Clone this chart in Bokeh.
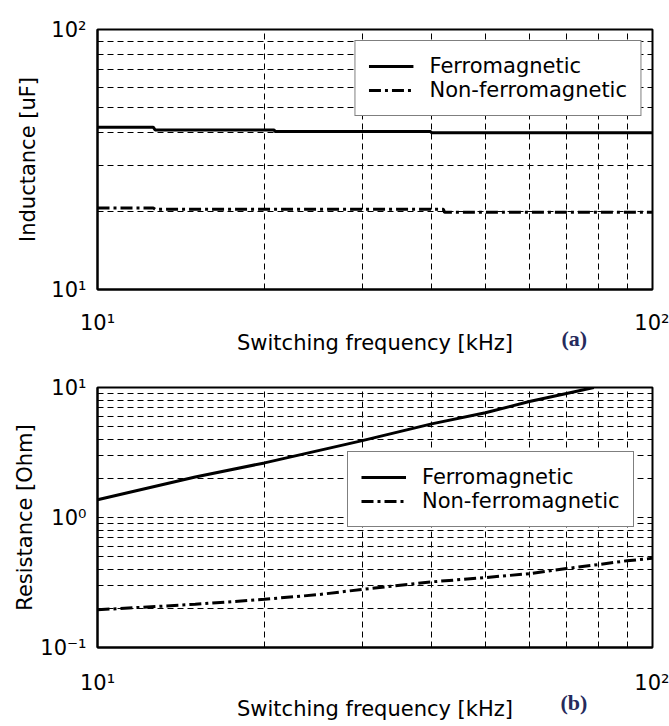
from bokeh.plotting import figure
from bokeh.layouts import column
from bokeh.models import (Range1d, FixedTicker, CustomJSTickFormatter, Legend,
                          LegendItem, Title)
from bokeh.embed import file_html
from bokeh.resources import INLINE

# ---------------- data ----------------
# (a) inductance vs switching frequency
freq_ferro_a = [10, 12.6, 12.7, 20.8, 20.9, 39.8, 40.0, 100]
ind_ferro = [42.1, 42.1, 41.1, 41.1, 40.5, 40.5, 40.1, 40.1]
freq_nonferro_a = [10, 12.6, 12.7, 42.0, 42.2, 100]
ind_nonferro = [20.6, 20.6, 20.35, 20.35, 19.8, 19.8]

# (b) resistance vs switching frequency
freq_ferro_b = [10, 15, 20, 30, 40, 50, 60, 70, 78.4]
res_ferro = [1.37, 2.05, 2.63, 3.9, 5.25, 6.4, 7.8, 9.0, 10.0]
freq_nonferro_b = [10, 15, 20, 25, 30, 40, 50, 60, 70, 80, 90, 100]
res_nonferro = [0.195, 0.215, 0.235, 0.255, 0.28, 0.32, 0.345, 0.37, 0.405,
                0.435, 0.465, 0.485]

series_names = ["Ferromagnetic", "Non-ferromagnetic"]
panel_tags = ["(a)", "(b)"]
x_label = "Switching frequency [kHz]"
x_major = [10, 100]
x_minor = [20, 30, 40, 50, 60, 70, 80, 90]
ya_major = [10, 100]
ya_minor = [20, 30, 40, 50, 60, 70, 80, 90]
yb_major = [0.1, 1, 10]
yb_minor = [0.2, 0.3, 0.4, 0.5, 0.6, 0.7, 0.8, 0.9,
            2, 3, 4, 5, 6, 7, 8, 9]

FONT = "DejaVu Sans"
FS = "21px"

sup_fmt = CustomJSTickFormatter(code="""
const sup = {"-": "\u207b", "0": "\u2070", "1": "\u00b9", "2": "\u00b2", "3": "\u00b3",
             "4": "\u2074", "5": "\u2075", "6": "\u2076", "7": "\u2077", "8": "\u2078", "9": "\u2079"};
const e = Math.round(Math.log10(tick));
return "10" + String(e).split("").map(c => sup[c]).join("");
""")


def make_panel(ylabel, yrange, ymaj, ymin, border_top, border_bottom,
               ylab_standoff, xtick_standoff):
    p = figure(width=669, height=363, x_axis_type="log", y_axis_type="log",
               x_range=Range1d(10, 100), y_range=Range1d(*yrange),
               output_backend="svg", toolbar_location=None,
               min_border_left=97, min_border_right=17,
               min_border_top=border_top, min_border_bottom=border_bottom)
    p.background_fill_color = "white"
    p.border_fill_color = "white"
    p.outline_line_color = "black"
    p.outline_line_width = 2

    p.xaxis.ticker = FixedTicker(ticks=x_major, minor_ticks=x_minor)
    p.yaxis.ticker = FixedTicker(ticks=ymaj, minor_ticks=ymin)
    for ax in (p.xaxis, p.yaxis):
        ax.formatter = sup_fmt
        ax.axis_line_color = "black"
        ax.axis_line_width = 2
        ax.major_tick_in = 6
        ax.major_tick_out = 0
        ax.minor_tick_in = 3
        ax.minor_tick_out = 0
        ax.major_tick_line_color = "black"
        ax.minor_tick_line_color = "black"
        ax.major_label_text_font = FONT
        ax.major_label_text_font_size = FS
        ax.major_label_text_color = "black"
        ax.axis_label_text_font = FONT
        ax.axis_label_text_font_size = FS
        ax.axis_label_text_font_style = "normal"
        ax.axis_label_text_color = "black"
    p.xaxis.major_label_standoff = xtick_standoff
    p.yaxis.major_label_standoff = 11
    p.yaxis.axis_label = ylabel
    p.yaxis.axis_label_standoff = ylab_standoff

    for g in (p.xgrid, p.ygrid):
        g.grid_line_color = "black"
        g.grid_line_dash = "6 4"
        g.grid_line_width = 1
        g.minor_grid_line_color = "black"
        g.minor_grid_line_dash = "6 4"
        g.minor_grid_line_width = 1
    return p


DASHDOT = "12 4 3 4"

# ---- panel (a)
pa = make_panel("Inductance [uF]", (10, 100), ya_major, ya_minor, 29, 74, 8, 21)
ra1 = pa.line(freq_ferro_a, ind_ferro, line_color="black", line_width=3)
ra2 = pa.line(freq_nonferro_a, ind_nonferro, line_color="black", line_width=3,
              line_dash=DASHDOT)

# ---- panel (b)
pb = make_panel("Resistance [Ohm]", (0.1, 10), yb_major, yb_minor, 24, 79, 0, 23)
rb1 = pb.line(freq_ferro_b, res_ferro, line_color="black", line_width=3)
rb2 = pb.line(freq_nonferro_b, res_nonferro, line_color="black", line_width=3,
              line_dash=DASHDOT)


def add_legend(p, r1, r2, location, margin):
    lg = Legend(items=[LegendItem(label=series_names[0], renderers=[r1]),
                       LegendItem(label=series_names[1], renderers=[r2])],
                location=location, margin=margin, padding=13, spacing=0,
                glyph_width=45, glyph_height=22, label_height=22,
                label_standoff=16,
                label_text_font=FONT, label_text_font_size=FS,
                label_text_color="black",
                border_line_color="black", border_line_width=1.5,
                background_fill_color="white", background_fill_alpha=1.0)
    p.add_layout(lg)


add_legend(pa, ra1, ra2, "top_right", 11)
add_legend(pb, rb1, rb2, (250, 120), 0)

# bottom rows: panel tag (right) and x-axis label (centre) share one line
for p, txt, tag_off, tag_so, lab_so in ((pa, panel_tags[0], 464, -24, -20),
                                        (pb, panel_tags[1], 463, -16, -23)):
    p.add_layout(Title(text=txt, align="left", offset=tag_off,
                       vertical_align="top", standoff=tag_so,
                       text_font="Liberation Serif", text_font_size="22px",
                       text_font_style="bold", text_color="#262a5c"),
                 "below")
    p.add_layout(Title(text=x_label, align="center",
                       vertical_align="top", standoff=lab_so,
                       text_font=FONT, text_font_size=FS,
                       text_font_style="normal", text_color="black"),
                 "below")

layout = column(pa, pb, spacing=0)
open("out.html", "w").write(file_html(layout, INLINE))
